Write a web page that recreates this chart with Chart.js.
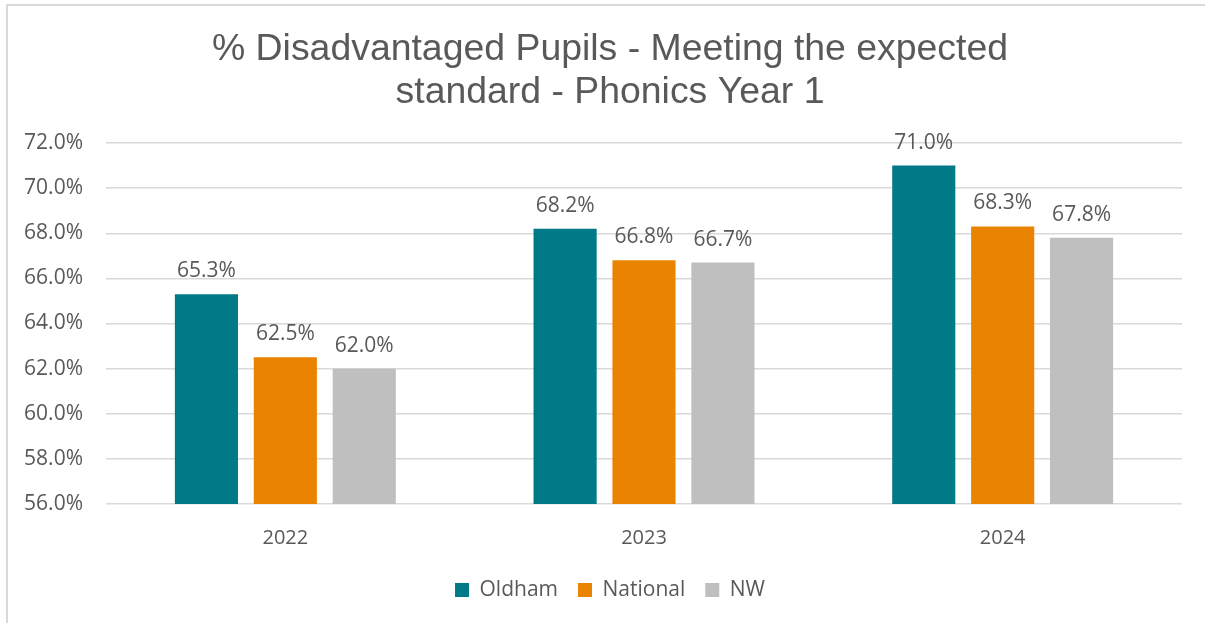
<!DOCTYPE html>
<html>
<head>
<meta charset="utf-8">
<script src="https://cdn.jsdelivr.net/npm/chart.js@4/dist/chart.umd.min.js"></script>
<style>
  html, body { margin: 0; padding: 0; background: #fff; overflow: hidden; }
  #frame {
    position: absolute; left: 6px; top: 4px; width: 1300px; height: 700px;
    border-left: 2px solid #d9d9d9; border-top: 2px solid #d9d9d9;
  }
  /* canvas is wider than the window so the title and legend centre where the original has them */
  #wrap { position: absolute; left: 0; top: 0; width: 1243px; height: 623px; }
</style>
</head>
<body>
<div id="frame"></div>
<div id="wrap"><canvas id="phonicsChart"></canvas></div>
<script>
const years = ["2022", "2023", "2024"];
const oldham = [65.3, 68.2, 71.0];
const national = [62.5, 66.8, 68.3];
const nw = [62.0, 66.7, 67.8];
const yTicks = [56, 58, 60, 62, 64, 66, 68, 70, 72];

const textColour = "#595959";
const bodyFont = '"Open Sans", sans-serif';

// value labels above each bar
const barLabels = {
  id: "barLabels",
  afterDatasetsDraw(chart) {
    const ctx = chart.ctx;
    ctx.save();
    ctx.font = "21px " + bodyFont;
    ctx.fillStyle = textColour;
    ctx.textAlign = "center";
    ctx.textBaseline = "middle";
    chart.data.datasets.forEach(function (ds, i) {
      chart.getDatasetMeta(i).data.forEach(function (bar, j) {
        ctx.fillText(ds.data[j].toFixed(1) + "%", bar.x, bar.y - 23);
      });
    });
    ctx.restore();
  },
};

document.addEventListener("DOMContentLoaded", function () {
  const ctx = document.getElementById("phonicsChart").getContext("2d");
  new Chart(ctx, {
    type: "bar",
    data: {
      labels: years,
      datasets: [
        { label: "Oldham", data: oldham, backgroundColor: "#007A87" },
        { label: "National", data: national, backgroundColor: "#EA8400" },
        { label: "NW", data: nw, backgroundColor: "#BFBFBF" },
      ],
    },
    options: {
      responsive: true,
      maintainAspectRatio: false,
      animation: false,
      categoryPercentage: 0.66,
      barPercentage: 0.8,
      layout: { padding: { left: 0, right: 23, top: 0, bottom: 12.5 } },
      plugins: {
        title: {
          display: true,
          text: ["% Disadvantaged Pupils - Meeting the expected", "standard - Phonics Year 1"],
          color: textColour,
          font: { family: '"Liberation Sans", Arial, sans-serif', size: 37.4, weight: "normal", lineHeight: 1.15 },
          padding: { top: 28, bottom: 29 },
        },
        legend: {
          position: "bottom",
          labels: {
            color: textColour,
            font: { family: bodyFont, size: 21 },
            boxWidth: 14,
            boxHeight: 14,
            padding: 20,
          },
        },
        tooltip: { enabled: false },
      },
      scales: {
        x: {
          grid: { display: false },
          border: { display: false },
          ticks: { color: textColour, font: { family: bodyFont, size: 20 }, padding: 14 },
          afterFit: function (scale) { scale.height = 55.5; },
        },
        y: {
          min: yTicks[0],
          max: yTicks[yTicks.length - 1],
          border: { display: false },
          grid: { color: "#d9d9d9", lineWidth: 1.5, drawTicks: false },
          ticks: {
            stepSize: 2,
            color: textColour,
            font: { family: bodyFont, size: 21 },
            padding: 23,
            callback: function (value) { return value.toFixed(1) + "%"; },
          },
          afterFit: function (scale) { scale.width = 106; },
        },
        // empty spacer on the right, outside the visible window
        spacer: {
          type: "linear",
          position: "right",
          grid: { display: false },
          border: { display: false },
          ticks: { display: false },
          afterFit: function (scale) { scale.width = 38; },
        },
      },
    },
    plugins: [barLabels],
  });
});
</script>
</body>
</html>
